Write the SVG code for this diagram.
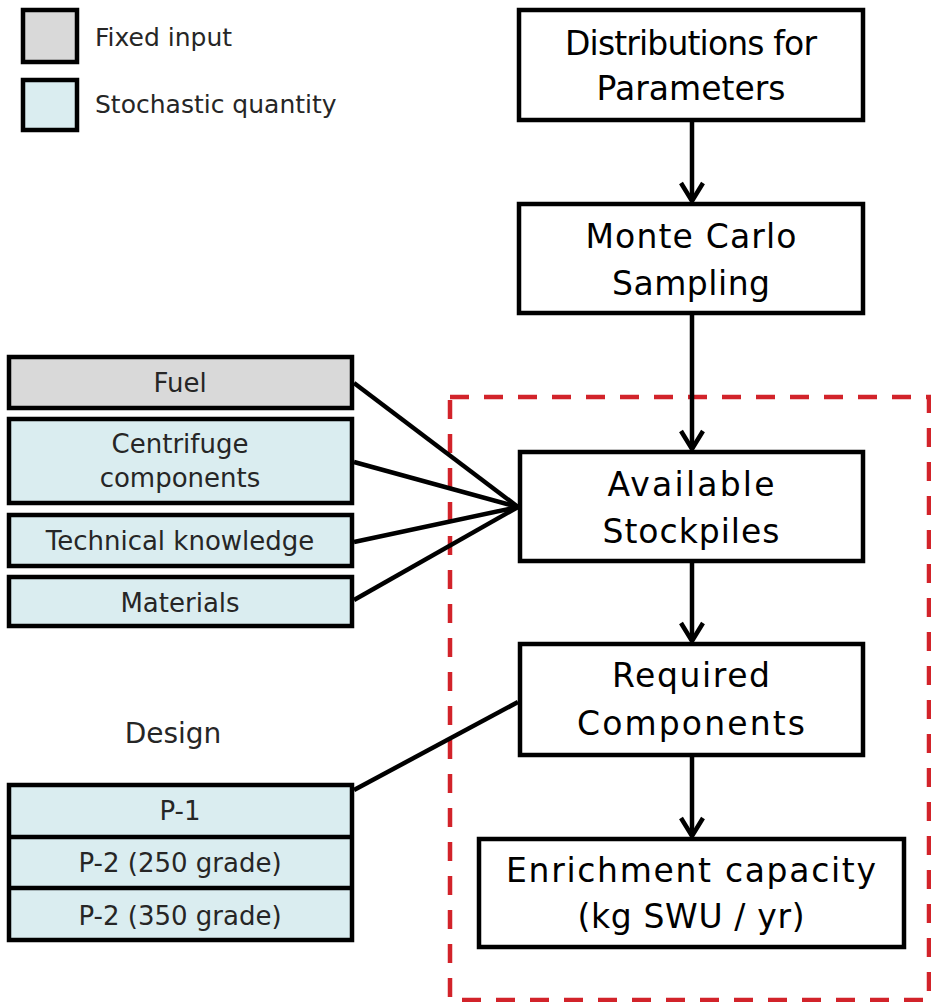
<svg xmlns="http://www.w3.org/2000/svg" width="931" height="1002" viewBox="0 0 931 1002">
  <style>
    .box { fill: #ffffff; stroke: #000000; stroke-width: 4.5; }
    .fixed { fill: #d9d9d9; stroke: #000000; stroke-width: 4.5; }
    .stoch { fill: #daedf0; stroke: #000000; stroke-width: 4.5; }
    .main { font-family: "DejaVu Sans", "Liberation Sans", sans-serif; font-size: 33px; fill: #000000; text-anchor: middle; }
    .side { font-family: "DejaVu Sans", "Liberation Sans", sans-serif; font-size: 26px; fill: #262626; text-anchor: middle; }
    .legend { font-family: "DejaVu Sans", "Liberation Sans", sans-serif; font-size: 25px; fill: #262626; }
    .link { stroke: #000000; stroke-width: 4.5; fill: none; }
    .arrow { stroke: #000000; stroke-width: 4.5; fill: none; marker-end: url(#chevron); }
    .scope { stroke: #d2232a; stroke-width: 4.5; fill: none; stroke-dasharray: 19 15; }
  </style>
  <defs>
    <!-- open V arrowhead, tip at the end of the line -->
    <marker id="chevron" markerUnits="userSpaceOnUse" viewBox="-22 -14 26 28" refX="0" refY="0" markerWidth="26" markerHeight="28" orient="auto">
      <path d="M -18 -11 L 0 0 L -18 11" stroke="#000000" stroke-width="4.5" fill="none" stroke-linejoin="miter"/>
    </marker>
  </defs>

  <rect width="931" height="1002" fill="#ffffff"/>

  <!-- legend -->
  <g id="legend">
    <rect class="fixed" x="23" y="10" width="54" height="52"/>
    <text class="legend" x="95" y="46">Fixed input</text>
    <rect class="stoch" x="23" y="80" width="54" height="50"/>
    <text class="legend" x="95" y="113">Stochastic quantity</text>
  </g>

  <!-- scope of the enrichment model -->
  <path class="scope" d="M 450 397 L 929 397 L 929 1000 L 450 1000 Z"/>

  <!-- connectors -->
  <g id="connectors">
    <line class="arrow" x1="692" y1="122" x2="692" y2="201"/>
    <line class="arrow" x1="692" y1="315" x2="692" y2="449"/>
    <line class="arrow" x1="692" y1="563" x2="692" y2="641"/>
    <line class="arrow" x1="692" y1="757" x2="692" y2="836"/>
    <line class="link" x1="354" y1="383" x2="518" y2="507"/>
    <line class="link" x1="354" y1="462" x2="518" y2="507"/>
    <line class="link" x1="354" y1="542" x2="518" y2="507"/>
    <line class="link" x1="354" y1="600" x2="518" y2="507"/>
    <line class="link" x1="354" y1="790" x2="518" y2="702"/>
  </g>

  <!-- main flow -->
  <g id="distributions">
    <rect class="box" x="519" y="10" width="344" height="110"/>
    <text class="main" x="691" y="55" textLength="252" lengthAdjust="spacing">Distributions for</text>
    <text class="main" x="691" y="100" textLength="189" lengthAdjust="spacing">Parameters</text>
  </g>
  <g id="monte-carlo">
    <rect class="box" x="519" y="204" width="344" height="109"/>
    <text class="main" x="691" y="248" textLength="211" lengthAdjust="spacing">Monte Carlo</text>
    <text class="main" x="691" y="295" textLength="158" lengthAdjust="spacing">Sampling</text>
  </g>
  <g id="stockpiles">
    <rect class="box" x="520" y="452" width="343" height="109"/>
    <text class="main" x="691" y="496" textLength="167" lengthAdjust="spacing">Available</text>
    <text class="main" x="691" y="543" textLength="177" lengthAdjust="spacing">Stockpiles</text>
  </g>
  <g id="required">
    <rect class="box" x="520" y="644" width="343" height="111"/>
    <text class="main" x="691" y="687" textLength="158" lengthAdjust="spacing">Required</text>
    <text class="main" x="691" y="735" textLength="228" lengthAdjust="spacing">Components</text>
  </g>
  <g id="enrichment">
    <rect class="box" x="479" y="839" width="425" height="108"/>
    <text class="main" x="691" y="882" textLength="370" lengthAdjust="spacing">Enrichment capacity</text>
    <text class="main" x="691" y="928" textLength="227" lengthAdjust="spacing">(kg SWU / yr)</text>
  </g>

  <!-- resource inputs -->
  <g id="fuel">
    <rect class="fixed" x="9" y="357" width="343" height="51"/>
    <text class="side" x="180" y="392">Fuel</text>
  </g>
  <g id="centrifuge">
    <rect class="stoch" x="9" y="419" width="343" height="84"/>
    <text class="side" x="180" y="453">Centrifuge</text>
    <text class="side" x="180" y="487">components</text>
  </g>
  <g id="knowledge">
    <rect class="stoch" x="9" y="515" width="343" height="51"/>
    <text class="side" x="180" y="550">Technical knowledge</text>
  </g>
  <g id="materials">
    <rect class="stoch" x="9" y="577" width="343" height="49"/>
    <text class="side" x="180" y="612">Materials</text>
  </g>

  <!-- design options -->
  <g id="design">
    <text class="main" x="173" y="743" style="font-size:28px; fill:#262626">Design</text>
    <rect class="stoch" x="9" y="785" width="343" height="155"/>
    <line class="link" x1="9" y1="837" x2="352" y2="837"/>
    <line class="link" x1="9" y1="888" x2="352" y2="888"/>
    <text class="side" x="180" y="820">P-1</text>
    <text class="side" x="180" y="872">P-2 (250 grade)</text>
    <text class="side" x="180" y="925">P-2 (350 grade)</text>
  </g>
</svg>
